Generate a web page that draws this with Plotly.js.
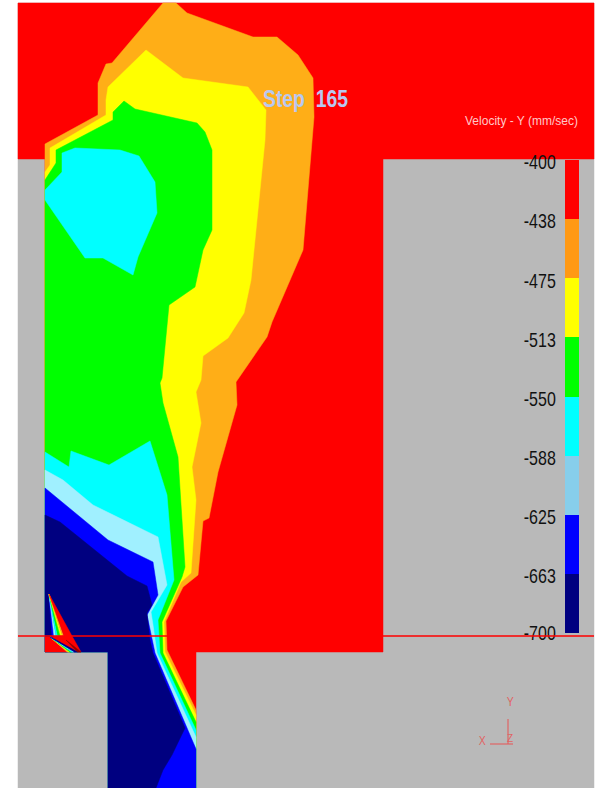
<!DOCTYPE html>
<html><head><meta charset="utf-8">
<script src="https://cdn.plot.ly/plotly-3.0.1.min.js"></script>
<style>html,body{margin:0;padding:0;background:#fff}#c{width:598px;height:788px}</style>
</head><body><div id="c"></div>
<script>
// Colour scale
const levels=[-400,-437.5,-475,-512.5,-550,-587.5,-625,-662.5,-700];
const tickLabels=['-400','-438','-475','-513','-550','-588','-625','-663','-700'];
const legendColors=['#ff0000','#ff9914','#ffff00','#00ff00','#00ffff','#87ceeb','#0000ff','#000080'];

// Section outline (picture coordinates)
const frameX=[18,594,594,18], frameY=[3,3,788,788];
const fluidX=[18,594,594,383,383,196,196,108,108,45,45,18];
const fluidY=[3,3,159,159,652,652,788,788,652,652,159,159];

// Region boundaries, one per velocity band
const orangeX=[163,176,187,253,277,298,313,314,303,290,272,267,236,237,218,209,203,198,183,166,167,196,196,108,108,45,45,98,98,106,112];
const orangeY=[3,3,13,37,37,55,78,117,250,280,322,337,382,405,472,518,521,575,587,621,650,710,788,788,652,652,144,115,83,64,63];
const yellowX=[146,183,248,266,265,251,244,228,203,201,196,201,192,196,191,181,164,165,196,196,108,108,45,45,50,50,106,106,108,118];
const yellowY=[50,78,87,110,140,280,313,338,356,380,392,423,467,500,573,582,622,652,715,788,788,652,652,172,165,148,115,100,87,77];
const greenX=[124,135,197,205,212,212,203,196,195,169,162,160,163,178,185,182,162,163,196,196,108,108,45,45,56,56,113,113];
const greenY=[101,109,123,132,150,230,250,280,287,305,378,383,403,457,567,577,622,653,722,788,788,652,652,180,163,150,120,112];
const cyanTopX=[45,62,62,75,120,139,155,157,138,133,103,85,45];
const cyanTopY=[190,172,153,148,150,156,182,213,257,275,258,258,200];
const cyanX=[45,69,71,109,150,167,174,158,160,196,196,108,108,45];
const cyanY=[452,467,451,465,441,495,580,620,653,730,788,788,652,652];
const paleX=[45,63,93,158,167,151,153,157,196,196,108,108,45];
const paleY=[470,480,505,537,585,612,625,653,737,788,788,652,652];
const blueX=[45,108,153,158,147,150,155,196,196,108,108,45];
const blueY=[488,540,562,595,615,630,653,749,788,788,652,652];
const navyX=[45,60,127,147,152,147,150,153,185,172,163,156,108,108,45];
const navyY=[515,522,576,586,605,613,640,653,728,755,770,788,788,652,652];

// Small corner fan at the lower left
const fanTipX=49, fanTipY=594, fanX=[52,54,56,58,60.5,62.5,64,72];
const fanColors=['#0000ff','#a0f0ff','#00ffff','#00ff00','#ffff00','#ffae17','#ff0000'];
const wedgeApexX=50, wedgeApexY=637, wedgeX=[67,68.5,70,71.5,73,74,75,77.5];
const wedgeColors=['#ffae17','#ffff00','#00ff00','#00ffff','#a0f0ff','#0000ff','#000080'];
const lowRedX=[45,50,67,45], lowRedY=[637,637,652,652];
const fanRedX=[64,72,81,78,52], fanRedY=[636,636,652,652,637];
const maroonX=[66,81,77.5], maroonY=[640,652,652];

// Text fitted to the widths seen in the picture
const tickLabelWidth=32, stepWidth=85, titleWidth=113;

const ORANGE='#ffae17', PALE='#a0f0ff', GREY='#b9b9b9';
function poly(x,y,c){return {type:'scatter',mode:'lines',x:[...x,x[0]],y:[...y,y[0]],fill:'toself',fillcolor:c,
  line:{width:0.5,color:c},hoverinfo:'skip',showlegend:false,xaxis:'x',yaxis:'y'};}

const traces=[
  poly(frameX,frameY,GREY),
  poly(fluidX,fluidY,'#ff0000'),
  poly(orangeX,orangeY,ORANGE),
  poly(yellowX,yellowY,'#ffff00'),
  poly(greenX,greenY,'#00ff00'),
  poly(cyanTopX,cyanTopY,'#00ffff'),
  poly(cyanX,cyanY,'#00ffff'),
  poly(paleX,paleY,PALE),
  poly(blueX,blueY,'#0000ff'),
  poly(navyX,navyY,'#000080'),
];
fanColors.forEach((c,i)=>traces.push(poly([fanTipX,fanX[i],fanX[i+1]],[fanTipY,636,636],c)));
traces.push(poly(fanRedX,fanRedY,'#ff0000'));
traces.push(poly(lowRedX,lowRedY,'#ff0000'));
wedgeColors.forEach((c,i)=>traces.push(poly([wedgeApexX,wedgeX[i],wedgeX[i+1]],[wedgeApexY,652,652],c)));
traces.push(poly(maroonX,maroonY,'#8b0000'));

// Legend bar: stacked bands on its own value axis
traces.push({type:'bar',x:legendColors.map(()=>0),y:levels.slice(1).map((v,i)=>v-levels[i]),base:levels.slice(0,-1),
  width:1,marker:{color:legendColors,line:{width:0}},hoverinfo:'skip',showlegend:false,xaxis:'x2',yaxis:'y2'});

const H=788,W=598;
const none={visible:false,fixedrange:true};
const sans='"Liberation Sans",Arial,sans-serif';
const annot=(x,y,text,size,color)=>({xref:'x',yref:'y',x,y,text,showarrow:false,xanchor:'center',yanchor:'middle',
  font:{family:sans,size,color}});
const TRIAD='#e06464';

Plotly.newPlot('c',traces,{
  width:W,height:H,margin:{l:0,r:0,t:0,b:0},paper_bgcolor:'#fff',plot_bgcolor:'rgba(0,0,0,0)',
  barmode:'overlay',bargap:0,
  xaxis:Object.assign({range:[0,W],domain:[0,1]},none),
  yaxis:Object.assign({range:[H,0],domain:[0,1]},none),
  xaxis2:{domain:[565/W,579/W],range:[-0.5,0.5],visible:false,anchor:'y2',fixedrange:true},
  yaxis2:{domain:[1-633/H,1-160/H],range:[-700,-400],anchor:'x2',side:'left',showgrid:false,zeroline:false,showline:false,
    tickmode:'array',tickvals:levels,ticktext:tickLabels,ticks:'outside',ticklen:4,tickcolor:'rgba(0,0,0,0)',
    tickfont:{family:sans,size:21,color:'#111'},fixedrange:true},
  shapes:[
    {type:'line',xref:'x',yref:'y',x0:18,x1:594,y0:636,y1:636,line:{color:'#ff0000',width:1.4}},
    {type:'line',xref:'x',yref:'y',x0:490,x1:513,y0:744,y1:744,line:{color:TRIAD,width:1.2}},
    {type:'line',xref:'x',yref:'y',x0:508,x1:508,y0:719,y1:744,line:{color:TRIAD,width:1.2}},
  ],
  annotations:[
    annot(305.5,99,'<b>Step  165</b>',23,'#b8c8f0'),
    annot(521.5,120,'Velocity - Y (mm/sec)',13.5,'#ffc8c8'),
    annot(510,701,'Y',13,TRIAD),
    annot(482,740,'X',13,TRIAD),
    annot(510,738,'Z',10,TRIAD),
  ]
},{staticPlot:true,displayModeBar:false}).then(()=>{
  const fit=(el,w)=>{el.setAttribute('textLength',w);el.setAttribute('lengthAdjust','spacingAndGlyphs');};
  document.querySelectorAll('.y2tick text').forEach(t=>{
    fit(t,tickLabelWidth);
    if(t.textContent!=='-700') t.setAttribute('dy','2');
  });
  document.querySelectorAll('.annotation-text').forEach(t=>{
    if(t.textContent.startsWith('Step')) fit(t,stepWidth);
    if(t.textContent.startsWith('Velocity')) fit(t,titleWidth);
    if(t.textContent==='Y'||t.textContent==='X') fit(t,7);
  });
});
</script></body></html>
